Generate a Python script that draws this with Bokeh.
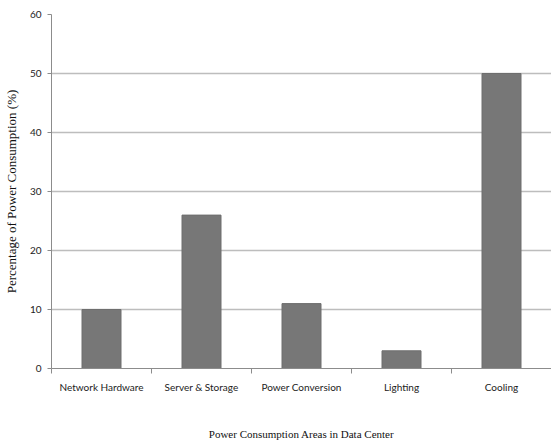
from bokeh.plotting import figure
from bokeh.models import Range1d, FixedTicker, ColumnDataSource
from bokeh.embed import file_html
from bokeh.resources import INLINE

categories = ["Network Hardware", "Server & Storage", "Power Conversion", "Lighting", "Cooling"]
values = [10, 26, 11, 3, 50]
y_ticks = [0, 10, 20, 30, 40, 50, 60]

xs = [i + 0.5 for i in range(len(categories))]
src = ColumnDataSource(dict(x=xs, top=values, cat=categories))

p = figure(width=551, height=442, output_backend="svg", toolbar_location=None,
           x_range=Range1d(0, len(categories)), y_range=Range1d(0, 60),
           min_border_left=50, min_border_right=0, min_border_top=14, min_border_bottom=74)
p.outline_line_color = None
p.background_fill_color = "white"
p.border_fill_color = "white"

p.vbar(x="x", top="top", width=0.39, source=src, fill_color="#777777", line_color="#6e6e6e")

# x axis
p.xaxis.ticker = FixedTicker(ticks=xs, minor_ticks=list(range(len(categories) + 1)))
p.xaxis.major_label_overrides = {x: c for x, c in zip(xs, categories)}
p.xaxis.major_tick_line_color = None
p.xaxis.minor_tick_line_color = "#8c8c8c"
p.xaxis.minor_tick_in = 0
p.xaxis.minor_tick_out = 5
p.xaxis.axis_line_color = "#8c8c8c"
p.xaxis.major_label_text_font = "Lato"
p.xaxis.major_label_text_font_size = "10px"
p.xaxis.major_label_text_color = "#222222"
p.xaxis.major_label_standoff = 6
p.xaxis.axis_label = "Power Consumption Areas in Data Center"
p.xaxis.axis_label_text_font = "Liberation Serif"
p.xaxis.axis_label_text_font_style = "normal"
p.xaxis.axis_label_text_font_size = "11px"
p.xaxis.axis_label_text_color = "#111111"
p.xaxis.axis_label_standoff = 32

# y axis
p.yaxis.ticker = FixedTicker(ticks=y_ticks)
p.yaxis.minor_tick_line_color = None
p.yaxis.major_tick_line_color = "#8c8c8c"
p.yaxis.major_tick_in = 0
p.yaxis.major_tick_out = 4
p.yaxis.axis_line_color = "#8c8c8c"
p.yaxis.major_label_text_font = "Lato"
p.yaxis.major_label_text_font_size = "10px"
p.yaxis.major_label_text_color = "#222222"
p.yaxis.major_label_standoff = 6
p.yaxis.axis_label = "Percentage of Power Consumption (%)"
p.yaxis.axis_label_text_font = "Liberation Serif"
p.yaxis.axis_label_text_font_style = "normal"
p.yaxis.axis_label_text_font_size = "13px"
p.yaxis.axis_label_text_color = "#111111"
p.yaxis.axis_label_standoff = 8

p.xgrid.grid_line_color = None
p.ygrid.ticker = FixedTicker(ticks=y_ticks)
p.ygrid.grid_line_color = "#bdbdbd"
p.ygrid.grid_line_width = 1.3

open("out.html", "w").write(file_html(p, INLINE))
